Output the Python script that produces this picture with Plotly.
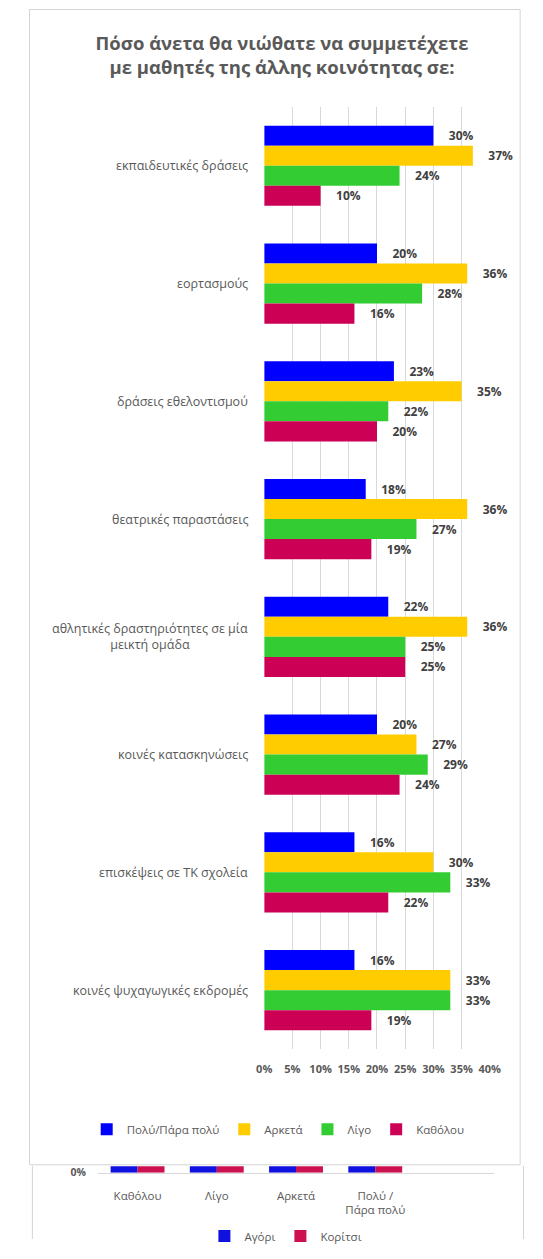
import plotly.graph_objects as go

# ---------------- data ----------------
categories = [
    "εκπαιδευτικές δράσεις",
    "εορτασμούς",
    "δράσεις εθελοντισμού",
    "θεατρικές παραστάσεις",
    "αθλητικές δραστηριότητες σε μία<br>μεικτή ομάδα",
    "κοινές κατασκηνώσεις",
    "επισκέψεις σε ΤΚ σχολεία",
    "κοινές ψυχαγωγικές εκδρομές",
]
series_names = ["Πολύ/Πάρα πολύ", "Αρκετά", "Λίγο", "Καθόλου"]
poly = [30, 20, 23, 18, 22, 20, 16, 16]
arketa = [37, 36, 35, 36, 36, 27, 30, 33]
ligo = [24, 28, 22, 27, 25, 29, 33, 33]
katholou = [10, 16, 20, 19, 25, 24, 22, 19]
x_ticks = [0, 5, 10, 15, 20, 25, 30, 35, 40]
x_ticktext = ["0%", "5%", "10%", "15%", "20%", "25%", "30%", "35%", "40%"]

# second (partly hidden) chart
cat2 = ["Καθόλου", "Λίγο", "Αρκετά", "Πολύ /<br>Πάρα πολύ"]
cat2_names = ["Αγόρι", "Κορίτσι"]
boys = [12, 26, 35, 27]     # only the base of these bars is visible
girls = [14, 27, 36, 23]

colors = ["#0000FF", "#FFCC00", "#33CC33", "#CC0055"]
colors2 = ["#1010E0", "#CC1050"]

# page has an 8px body margin -> figure fits inside the 543x1259 window
OFF = 8
W, H = 543 - 2 * OFF, 1259 - 2 * OFF
def px(x):
    return (x - OFF) / W
def py(y):
    return 1 - (y - OFF) / H

TXT = "#595959"
FONT = "Open Sans"
NB = "\u00a0\u00a0\u00a0\u00a0"

fig = go.Figure()

for name, vals, col in zip(series_names, [poly, arketa, ligo, katholou], colors):
    fig.add_trace(go.Bar(
        y=categories, x=vals, name=name, orientation="h",
        marker=dict(color=col, line=dict(width=0)),
        text=[f"{v}%" for v in vals],
        texttemplate=NB + "%{text}", textposition="outside",
        textfont=dict(family=FONT, size=12, color="#404040", weight="bold"),
        constraintext="none", cliponaxis=False,
        hoverinfo="skip",
        xaxis="x", yaxis="y", legend="legend",
    ))

for name, vals, col in zip(cat2_names, [boys, girls], colors2):
    fig.add_trace(go.Bar(
        x=cat2, y=vals, name=name,
        marker=dict(color=col, line=dict(width=0)),
        hoverinfo="skip",
        xaxis="x2", yaxis="y2", legend="legend2",
    ))

# category labels (Excel style: block right-aligned, lines centered)
annotations = []
for c in categories:
    annotations.append(dict(
        x=px(251), xref="paper", xanchor="right", y=c, yref="y",
        text=c, showarrow=False, align="center",
        font=dict(family=FONT, size=12.5, color=TXT),
    ))

FR = "#D4D4D4"
shapes = [
    # frame of main chart
    dict(type="rect", xref="paper", yref="paper", x0=px(22), x1=px(531), y0=py(1176), y1=py(8.5),
         line=dict(color=FR, width=1), fillcolor="rgba(0,0,0,0)", layer="below"),
    # frame of second chart (visible part)
    dict(type="line", xref="paper", yref="paper", x0=px(25), x1=px(25), y0=py(1251), y1=py(1177),
         line=dict(color=FR, width=1)),
    dict(type="line", xref="paper", yref="paper", x0=px(534.5), x1=px(534.5), y0=py(1251), y1=py(1177),
         line=dict(color=FR, width=1)),
]

fig.update_layout(
    width=W, height=H, autosize=False,
    margin=dict(l=0, r=0, t=0, b=0),
    paper_bgcolor="white", plot_bgcolor="white",
    font=dict(family=FONT, color=TXT),
    title=dict(
        text="Πόσο άνετα θα νιώθατε να συμμετέχετε<br>με μαθητές της άλλης κοινότητας σε:",
        x=px(282), xanchor="center", y=py(50), yanchor="middle",
        font=dict(family=FONT, size=18.5, color=TXT, weight="bold"),
    ),
    barmode="group", bargap=0.32, bargroupgap=0,
    xaxis=dict(
        domain=[px(265.5), px(499.5)], range=[0, 40], tickvals=x_ticks, ticktext=x_ticktext,
        showgrid=True, gridcolor="#D9D9D9", gridwidth=1, zeroline=False, showline=False,
        ticks="", ticklabelstandoff=12,
        tickfont=dict(family=FONT, size=11, color=TXT, weight="bold"),
        anchor="y", fixedrange=True,
    ),
    yaxis=dict(
        domain=[py(1059), py(107)], type="category", autorange="reversed",
        showticklabels=False, showgrid=False, zeroline=False, showline=False,
        anchor="x", fixedrange=True,
    ),
    xaxis2=dict(
        domain=[px(93), px(504)], type="category", range=[-0.5, 4.5],
        showline=True, linecolor="#D9D9D9", linewidth=1, ticks="", ticklabelstandoff=12,
        tickfont=dict(family=FONT, size=11.5, color=TXT),
        anchor="y2", fixedrange=True,
    ),
    yaxis2=dict(
        domain=[py(1184), py(1177.5)], range=[0, 1.2], tickvals=[0], ticktext=["0%"],
        showgrid=False, zeroline=False, ticks="", ticklabelstandoff=11,
        tickfont=dict(family=FONT, size=10.5, color=TXT, weight="bold"),
        anchor="x2", fixedrange=True,
    ),
    legend=dict(
        orientation="h", x=px(280), xanchor="center", y=py(1140), yanchor="middle",
        font=dict(family=FONT, size=11.5, color=TXT), itemwidth=30,
        bgcolor="rgba(0,0,0,0)", traceorder="normal",
    ),
    legend2=dict(
        orientation="h", x=px(288), xanchor="center", y=py(1248), yanchor="middle",
        font=dict(family=FONT, size=11.5, color=TXT), itemwidth=30,
        bgcolor="rgba(0,0,0,0)",
    ),
    annotations=annotations,
    shapes=shapes,
    showlegend=True,
)

fig.write_html("out.html", config={"displayModeBar": False, "responsive": False})
